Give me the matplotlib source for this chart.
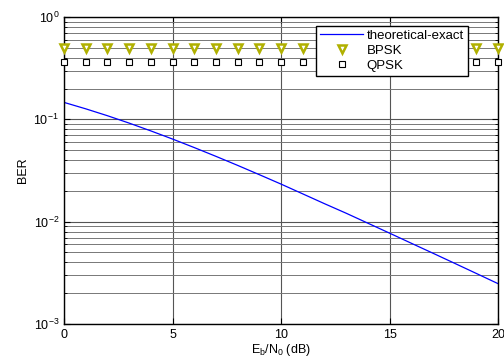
import numpy as np
import matplotlib.pyplot as plt

plt.rcParams['font.family'] = ['Liberation Sans', 'DejaVu Sans']
plt.rcParams['mathtext.fontset'] = 'custom'
plt.rcParams['mathtext.rm'] = 'Liberation Sans'
plt.rcParams['mathtext.it'] = 'Liberation Sans:italic'
plt.rcParams['mathtext.default'] = 'regular'

ebno_db = list(range(0, 21))
ber_theory = [0.1464, 0.1267, 0.1085, 0.0919, 0.0771, 0.0642, 0.0530, 0.0435,
              0.0355, 0.0288, 0.0233, 0.0187, 0.0150, 0.0121, 0.00967, 0.00773,
              0.00616, 0.00492, 0.00392, 0.00312, 0.00248]
ber_bpsk = [0.5] * 21
ber_qpsk = [0.36] * 21

fig = plt.figure(figsize=(5.04, 3.62), dpi=100)
ax = fig.add_axes([64 / 504, 1 - 324 / 362, 434 / 504, 307 / 362])

ax.semilogy(ebno_db, ber_theory, color='#0000ff', lw=0.9, label='theoretical-exact')
ax.semilogy(ebno_db, ber_bpsk, ls='none', marker='v', ms=6, mfc='white',
            mec='#b0b000', mew=1.8, label='BPSK', clip_on=False, zorder=4)
ax.semilogy(ebno_db, ber_qpsk, ls='none', marker='s', ms=4.4, mfc='white',
            mec='black', mew=0.8, label='QPSK', clip_on=False, zorder=4)

ax.set_xlim(0, 20)
ax.set_ylim(1e-3, 1)
ax.set_xticks([0, 5, 10, 15, 20])
ax.grid(True, which='major', color='#555555', lw=0.8)
ax.grid(True, which='minor', axis='y', color='#777777', lw=0.7)
ax.tick_params(which='both', direction='in', top=True, right=True, labelsize=9)
ax.tick_params(which='major', length=4)
ax.tick_params(which='minor', length=2)
for s in ax.spines.values():
    s.set_linewidth(1.0)

ax.set_xlabel('E$_b$/N$_0$ (dB)', fontsize=9, labelpad=1)
ax.set_ylabel('BER', fontsize=9, labelpad=3)

leg = ax.legend(loc='upper right', bbox_to_anchor=((468 - 64) / 434, (324 - 25.7) / 307),
                bbox_transform=ax.transAxes, fontsize=9.5, fancybox=False, framealpha=1,
                edgecolor='black', borderpad=0.3, labelspacing=0.2, handlelength=3.3,
                handletextpad=0.25, borderaxespad=0)
leg.get_frame().set_linewidth(1.0)

fig.savefig('out.png', dpi=100)
